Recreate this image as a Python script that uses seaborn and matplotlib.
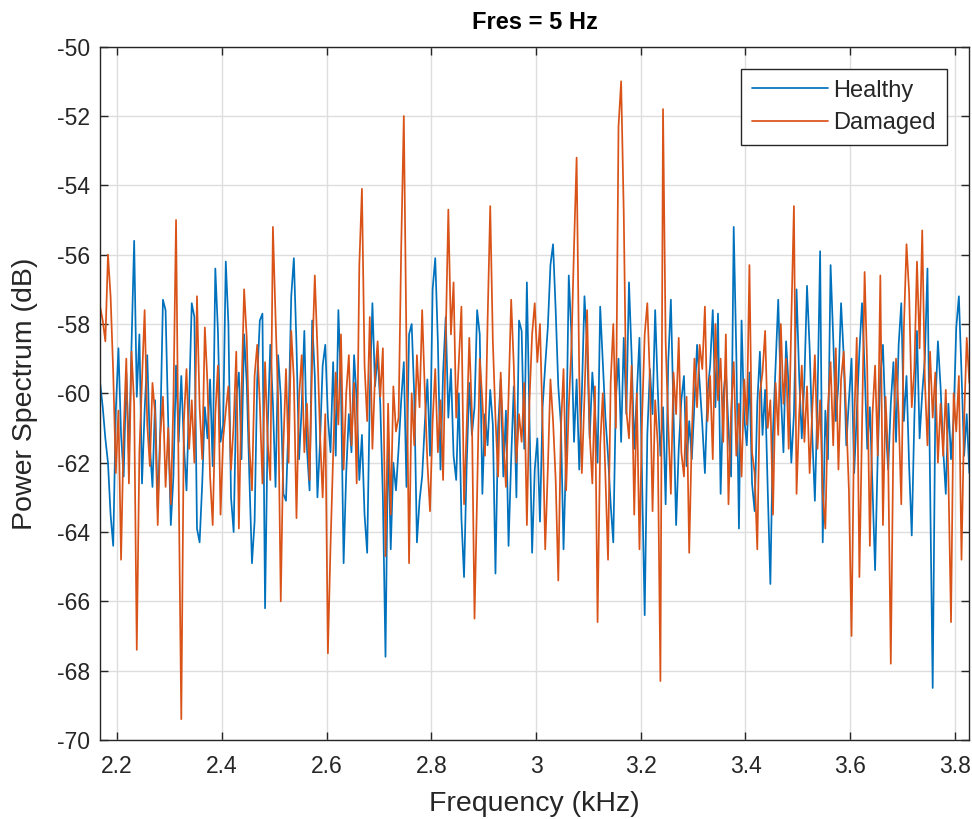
import numpy as np
import pandas as pd
import seaborn as sns
import matplotlib.pyplot as plt

# frequency grid (kHz), 5 Hz resolution
f_start = 2.1675
f_step = 0.005

healthy = [
    -59.7, -60.4, -61.3, -62.0, -63.5, -64.4, -60.5, -58.7, -61.2, -62.4,
    -59.4, -61.8, -58.6, -55.6, -60.1, -58.3, -62.6, -60.5, -58.9, -61.5,
    -62.7, -60.2, -63.3, -61.0, -57.3, -57.6, -60.8, -63.8, -62.4, -59.2,
    -61.4, -59.5, -61.5, -62.8, -60.2, -57.4, -57.8, -63.9, -64.3, -62.6,
    -60.4, -61.3, -59.6, -62.1, -56.4, -58.2, -61.4, -60.9, -56.2, -58.0,
    -63.0, -64.0, -60.1, -59.4, -61.9, -58.3, -59.7, -62.4, -64.9, -63.7,
    -59.6, -57.9, -57.7, -66.2, -61.0, -58.6, -60.3, -62.7, -58.9, -60.1,
    -62.9, -63.1, -60.7, -57.2, -56.1, -58.6, -61.9, -60.4, -58.2, -61.6,
    -62.8, -57.9, -59.5, -63.0, -61.4, -59.2, -58.6, -60.7, -61.7, -59.1,
    -61.8, -57.6, -59.8, -64.9, -62.3, -60.6, -61.7, -58.9, -60.2, -62.5,
    -61.2, -63.5, -64.6, -60.1, -57.4, -59.8, -58.9, -60.3, -63.0, -67.6,
    -61.1, -64.5, -62.0, -62.8, -61.6, -60.2, -59.1, -62.7, -58.3, -58.0,
    -60.1, -64.3, -63.1, -62.4, -60.9, -59.6, -61.8, -57.0, -56.1, -58.5,
    -62.2, -59.4, -57.8, -60.7, -59.3, -61.8, -62.5, -60.0, -63.6, -65.3,
    -62.1, -59.7, -61.2, -60.4, -57.6, -58.3, -62.9, -60.6, -61.5, -59.9,
    -60.9, -65.2, -61.0, -59.6, -62.4, -60.5, -64.4, -61.9, -59.8, -63.0,
    -57.9, -58.2, -61.6, -56.8, -60.8, -64.6, -62.2, -61.3, -63.7, -60.4,
    -59.2, -58.1, -56.3, -55.7, -57.6, -59.8, -60.9, -64.5, -61.7, -56.6,
    -58.3, -61.4, -59.6, -62.2, -60.0, -57.2, -58.6, -61.3, -59.4, -60.5,
    -62.0, -57.5, -59.1, -60.7, -61.8, -63.2, -64.3, -60.1, -59.0, -61.4,
    -58.4, -60.6, -56.8, -58.9, -61.6, -60.0, -58.4, -62.5, -66.4, -61.2,
    -59.3, -60.6, -57.6, -59.9, -61.8, -60.4, -63.2, -59.1, -57.3, -60.5,
    -63.8, -61.6, -60.2, -59.5, -62.1, -60.8, -61.9, -60.3, -58.6, -59.7,
    -60.9, -62.3, -60.0, -59.2, -57.6, -60.4, -57.7, -62.9, -60.1, -59.3,
    -61.0, -62.4, -55.2, -58.9, -63.9, -57.9, -60.7, -61.5, -59.4, -62.6,
    -63.4, -60.3, -58.8, -61.2, -59.9, -62.8, -65.5, -61.1, -59.2, -57.3,
    -60.0, -61.7, -58.5, -59.8, -62.0, -60.6, -57.0, -59.5, -61.3, -59.6,
    -56.9, -58.7, -61.2, -63.1, -60.2, -55.9, -64.3, -60.5, -61.9, -56.3,
    -58.4, -60.8, -59.7, -57.4, -58.9, -61.5, -60.2, -59.0, -62.3, -60.6,
    -58.8, -57.4, -59.3, -61.6, -60.4, -62.7, -65.1, -61.8, -59.5, -58.6,
    -60.9, -62.2, -60.3, -59.1, -61.4, -58.6, -57.4, -60.8, -59.5, -62.1,
    -64.1, -60.7, -58.2, -61.3, -60.0, -59.0, -56.4, -62.6, -68.5, -60.4,
    -58.5, -59.8, -61.6, -62.9, -60.3, -61.9, -60.7, -58.1, -57.2, -59.4,
    -61.8, -60.6, -62.3,
]

damaged = [
    -57.5, -57.9, -58.5, -56.0, -57.2, -59.4, -62.3, -60.5, -64.8, -61.1,
    -59.0, -62.6, -58.8, -60.3, -67.4, -61.7, -59.6, -57.6, -60.9, -62.1,
    -59.7, -60.6, -63.8, -61.2, -60.1, -62.7, -61.0, -63.2, -60.2, -55.0,
    -62.5, -69.4, -60.8, -59.3, -61.6, -60.2, -62.0, -57.2, -60.4, -61.9,
    -58.1, -59.7, -62.4, -63.8, -60.6, -59.2, -63.5, -61.3, -60.5, -59.8,
    -62.2, -60.9, -58.8, -63.9, -60.0, -57.0, -58.4, -61.5, -62.8, -59.5,
    -58.6, -60.3, -62.6, -59.1, -61.4, -62.5, -55.2, -57.8, -60.2, -66.0,
    -61.5, -59.3, -62.0, -58.2, -59.6, -63.6, -60.1, -58.9, -61.7, -60.3,
    -62.5, -59.0, -56.6, -58.7, -61.2, -63.0, -60.6, -67.5, -64.4, -61.8,
    -59.4, -60.9, -58.3, -62.2, -60.0, -58.9, -61.5, -59.7, -62.6, -56.3,
    -54.1, -59.2, -60.8, -57.8, -61.6, -59.5, -58.5, -60.1, -58.7, -64.7,
    -60.3, -63.5, -59.8, -61.1, -60.7, -55.8, -52.0, -58.6, -64.9, -60.0,
    -61.5, -58.9, -60.4, -57.6, -59.9, -62.0, -63.4, -60.8, -59.3, -61.7,
    -60.2, -62.5, -58.4, -54.7, -58.3, -56.8, -60.7, -59.1, -57.5, -63.2,
    -61.0, -58.4, -60.6, -66.5, -62.9, -59.0, -60.2, -61.8, -57.9, -54.6,
    -58.5, -60.7, -62.4, -59.4, -61.3, -62.7, -60.1, -57.3, -59.2, -62.0,
    -60.6, -61.4, -59.7, -63.8, -60.2, -58.3, -57.4, -59.1, -58.0, -60.9,
    -64.5, -62.2, -59.6, -60.8, -62.5, -65.4, -61.0, -59.3, -62.8, -60.4,
    -58.7, -55.8, -53.2, -59.5, -62.3, -60.1, -57.6, -61.2, -62.6, -59.8,
    -66.6, -61.5, -60.0, -62.4, -64.8, -59.7, -58.0, -61.0, -52.3, -51.0,
    -54.8, -60.5, -61.3, -59.2, -63.5, -60.0, -64.5, -60.7, -58.3, -57.4,
    -59.6, -63.4, -60.2, -61.5, -68.3, -51.8, -58.5, -60.9, -62.9, -59.4,
    -60.6, -58.4, -61.7, -62.4, -60.1, -64.6, -61.2, -59.0, -60.4, -58.6,
    -59.3, -57.5, -60.8, -59.5, -61.9, -58.0, -60.2, -59.0, -61.4, -58.3,
    -63.2, -60.5, -59.1, -61.8, -60.3, -62.4, -59.6, -60.9, -56.3, -61.7,
    -62.3, -64.5, -60.0, -59.4, -58.2, -61.0, -60.2, -63.5, -59.7, -61.2,
    -58.0, -60.3, -59.0, -61.6, -57.9, -54.6, -62.9, -60.6, -59.2, -61.4,
    -59.8, -62.3, -60.5, -58.9, -61.6, -60.2, -62.9, -63.9, -60.4, -59.1,
    -61.5, -58.7, -62.2, -59.6, -58.8, -60.7, -62.8, -67.0, -60.9, -58.4,
    -65.3, -61.0, -56.5, -59.3, -64.4, -60.6, -59.2, -61.8, -56.6, -63.8,
    -60.1, -61.9, -67.8, -61.2, -59.0, -60.6, -63.2, -58.1, -55.7, -57.1,
    -60.4, -59.3, -56.2, -58.7, -55.3, -59.6, -61.5, -58.8, -60.7, -59.4,
    -62.0, -60.3, -61.8, -59.9, -62.4, -66.6, -60.0, -61.1, -59.5, -64.8,
    -60.8, -58.4, -59.7,
]

series_names = ["Healthy", "Damaged"]
colors = ["#0072BD", "#D95319"]

frames = []
for name, vals in zip(series_names, [healthy, damaged]):
    freq = f_start + f_step * np.arange(len(vals))
    frames.append(pd.DataFrame({"freq": freq, "power": vals, "series": name}))
data = pd.concat(frames, ignore_index=True)

sns.set_theme(style="whitegrid")
plt.rcParams['font.family'] = ['Liberation Sans', 'DejaVu Sans']
plt.rcParams['axes.unicode_minus'] = False

fig, ax = plt.subplots(figsize=(9.72, 8.19), dpi=100)
fig.subplots_adjust(left=0.103, right=0.997, top=0.943, bottom=0.0965)

sns.lineplot(data=data, x="freq", y="power", hue="series", palette=colors,
             estimator=None, sort=False, linewidth=1.25, ax=ax)

ax.set_xlim(2.1675, 3.827)
ax.set_ylim(-70, -50)
ax.set_xticks(np.arange(2.2, 3.81, 0.2))
ax.set_xticklabels(["2.2", "2.4", "2.6", "2.8", "3", "3.2", "3.4", "3.6", "3.8"])
ax.set_yticks(np.arange(-70, -49, 2))

ax.grid(True, color="#dedede", linewidth=1.0)
for s in ax.spines.values():
    s.set_color("#262626")
    s.set_linewidth(1.0)
ax.tick_params(direction="in", length=6, width=1, colors="#262626",
               labelsize=16.5, top=True, right=True, bottom=True, left=True,
               labeltop=False, labelright=False)
ax.tick_params(axis="x", pad=11)
ax.tick_params(axis="y", pad=7)

ax.set_title("Fres = 5 Hz", fontsize=17, fontweight="bold", color="black", pad=13)
ax.set_xlabel("Frequency (kHz)", fontsize=20.5, color="#262626", labelpad=9)
ax.set_ylabel("Power Spectrum (dB)", fontsize=20.5, color="#262626", labelpad=14)

leg = ax.legend(loc="upper right", fontsize=17, frameon=True, fancybox=False,
                edgecolor="#262626", framealpha=1, handlelength=3.2,
                borderaxespad=0.95, borderpad=0.45, labelspacing=0.45,
                handletextpad=0.25)
leg.get_frame().set_linewidth(1.0)
for t in leg.get_texts():
    t.set_color("#262626")

plt.savefig("out.png", dpi=100)
